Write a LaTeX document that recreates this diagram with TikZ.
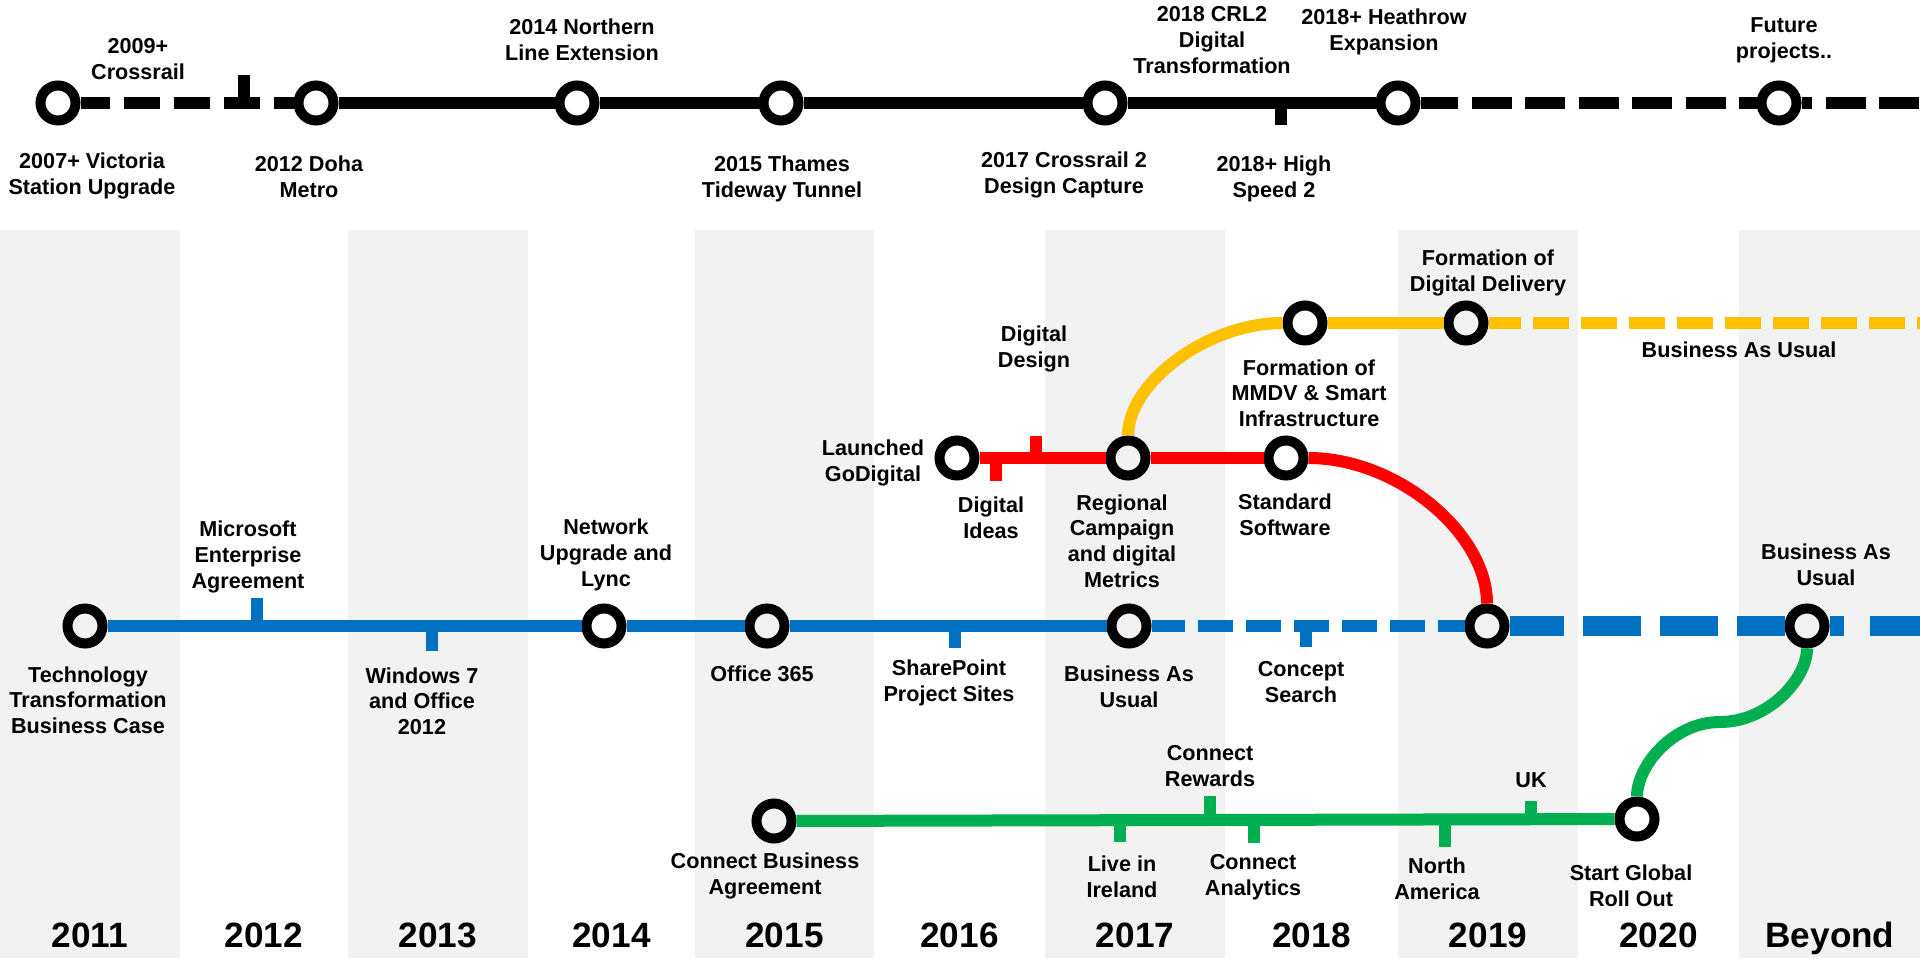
\documentclass[tikz,border=0pt]{standalone}
\usepackage{fontspec}
\setmainfont{Liberation Sans}
\usetikzlibrary{calc}
\definecolor{bggrey}{HTML}{F2F2F2}
\definecolor{lineblue}{HTML}{0070C0}
\definecolor{linered}{HTML}{FF0000}
\definecolor{lineorange}{HTML}{FFC000}
\definecolor{linegreen}{HTML}{00B050}
\def\tick[#1](#2)(#3){\draw[#1] (#2) -- ++(0,#3);}
\tikzset{
	station/.style={circle, draw=black, line width=1mm, minimum size=0.35cm, inner sep=0pt},
	track/.style={line width=1.2mm},
	lbl/.style={inner sep=0pt, align=center, font=\fontsize{6.15}{7.3}\selectfont\bfseries},
	yearlbl/.style={inner sep=0pt, anchor=base, font=\fontsize{10}{12}\selectfont\bfseries}
}

\begin{document}
\begin{tikzpicture}
	%%%%% START %%%%%
	\useasboundingbox (0, 0) rectangle (19.2, 9.58);
	\fill[white] (0, 0) rectangle (19.2, 9.58);
	\foreach \a/\b in {0/1.80, 3.48/5.28, 6.95/8.74, 10.45/12.25, 13.98/15.78, 17.39/19.2}
		\fill[bggrey] (\a, 0) rectangle (\b, 7.28);
	
	\foreach \x/\yr in {0.90/2011, 2.64/2012, 4.38/2013, 6.115/2014, 7.845/2015, 9.595/2016, 11.35/2017, 13.115/2018, 14.88/2019, 16.585/2020, 18.30/Beyond}
		\node[yearlbl] (y\yr) at (\x, 0.11) {\yr};
	
	%%%%% PROJECTS (black) %%%%%
	\node[station] (vic) at (0.58, 8.55) {};
	\node[station] (doha) at (3.16, 8.55) {};
	\node[station] (nle) at (5.77, 8.55) {};
	\node[station] (ttt) at (7.81, 8.55) {};
	\node[station] (crd) at (11.05, 8.55) {};
	\node[station] (lhr) at (13.98, 8.55) {};
	\node[station] (fut) at (17.79, 8.55) {};
	\coordinate (topend) at (19.2, 8.55);
	
	\draw[track, dash pattern=on 3.6mm off 1.4mm, dash phase=0.65mm] (vic) -- (doha);
	\draw[track] (doha) -- (nle) -- (ttt) -- (crd) -- (lhr);
	\draw[track, dash pattern=on 4mm off 1.35mm, dash phase=0.25mm] (lhr) -- (fut);
	\draw[track, dash pattern=on 4mm off 1.35mm, dash phase=2.95mm] (fut) -- (topend);
	\tick[track](2.44, 8.55)(0.28)
	\tick[track](12.81, 8.55)(-0.22)
	
	\node[lbl] (lvic) at (0.92, 7.82) {2007+ Victoria\\Station Upgrade};
	\node[lbl] (lcr) at (1.38, 8.99) {2009+\\Crossrail};
	\node[lbl] (ldoha) at (3.09, 7.81) {2012 Doha\\Metro};
	\node[lbl] (lnle) at (5.82, 9.18) {2014 Northern\\Line Extension};
	\node[lbl] (lttt) at (7.82, 7.79) {2015 Thames\\Tideway Tunnel};
	\node[lbl] (lcrd) at (10.64, 7.83) {2017 Crossrail 2\\Design Capture};
	\node[lbl] (lcrl) at (12.12, 9.18) {2018 CRL2\\Digital\\Transformation};
	\node[lbl] (lhs) at (12.74, 7.79) {2018+ High\\Speed 2};
	\node[lbl] (llhr) at (13.84, 9.26) {2018+ Heathrow\\Expansion};
	\node[lbl] (lfut) at (17.84, 9.18) {Future\\projects..};
	
	%%%%% TECHNOLOGY (blue) %%%%%
	\node[station] (ttb) at (0.85, 3.32) {};
	\node[station] (net) at (6.04, 3.32) {};
	\node[station] (off) at (7.67, 3.32) {};
	\node[station] (bau) at (11.29, 3.32) {};
	\node[station] (join) at (14.87, 3.32) {};
	\node[station] (baub) at (18.07, 3.32) {};
	\coordinate (blueend) at (19.2, 3.32);
	
	\draw[track, color=lineblue] (ttb) -- (net) -- (off) -- (bau);
	\draw[line width=1.2mm, color=lineblue, dash pattern=on 3.55mm off 1.25mm, dash phase=0.2mm] (bau) -- (join);
	\draw[line width=2mm, color=lineblue, dash pattern=on 5.8mm off 1.9mm, dash phase=0.35mm] (join) -- (baub);
	\draw[line width=2mm, color=lineblue, dash pattern=on 5.8mm off 2.6mm, dash phase=4.35mm] (baub) -- (blueend);
	\tick[track, color=lineblue](2.57, 3.32)(0.28)
	\tick[track, color=lineblue](4.32, 3.32)(-0.25)
	\tick[track, color=lineblue](9.55, 3.32)(-0.22)
	\tick[track, color=lineblue](13.06, 3.32)(-0.21)
	
	\node[lbl] (lttb) at (0.88, 2.58) {Technology\\Transformation\\Business Case};
	\node[lbl] (lms) at (2.48, 4.01) {Microsoft\\Enterprise\\Agreement};
	\node[lbl] (lwin) at (4.22, 2.57) {Windows 7\\and Office\\2012};
	\node[lbl] (lnet) at (6.06, 4.03) {Network\\Upgrade and\\Lync};
	\node[lbl] (loff) at (7.62, 2.84) {Office 365};
	\node[lbl] (lsp) at (9.49, 2.75) {SharePoint\\Project Sites};
	\node[lbl] (lbau) at (11.29, 2.71) {Business As\\Usual};
	\node[lbl] (lcs) at (13.01, 2.76) {Concept\\Search};
	\node[lbl] (lbaub) at (18.26, 3.93) {Business As\\Usual};
	
	%%%%% GODIGITAL (red) %%%%%
	\node[station] (god) at (9.57, 5.00) {};
	\node[station] (reg) at (11.28, 5.00) {};
	\node[station] (std) at (12.86, 5.00) {};
	
	\draw[track, color=linered] (god) -- (reg) -- (std);
	\draw[track, color=linered] (std) .. controls +(1.11, 0) and +(0, 0.93) .. (join);
	\tick[track, color=linered](9.96, 5.00)(-0.23)
	\tick[track, color=linered](10.36, 5.00)(0.22)
	
	\node[lbl] (lgod) at (8.73, 4.95) {Launched\\GoDigital};
	\node[lbl] (ldi) at (9.91, 4.40) {Digital\\Ideas};
	\node[lbl] (ldd) at (10.34, 6.09) {Digital\\Design};
	\node[lbl] (lreg) at (11.22, 4.17) {Regional\\Campaign\\and digital\\Metrics};
	\node[lbl] (lstd) at (12.85, 4.43) {Standard\\Software};
	
	%%%%% DIGITAL DELIVERY (orange) %%%%%
	\node[station] (mmdv) at (13.05, 6.35) {};
	\node[station] (ddel) at (14.66, 6.35) {};
	\coordinate (orangeend) at (19.2, 6.35);
	
	\draw[track, color=lineorange] (reg) .. controls +(0, 0.75) and +(-0.98, 0) .. (mmdv);
	\draw[track, color=lineorange] (mmdv) -- (ddel);
	\draw[track, color=lineorange, dash pattern=on 3.6mm off 1.2mm, dash phase=0.35mm] (ddel) -- (orangeend);
	
	\node[lbl] (lmmdv) at (13.09, 5.65) {Formation of\\MMDV \& Smart\\Infrastructure};
	\node[lbl] (lddel) at (14.88, 6.85) {Formation of\\Digital Delivery};
	\node[lbl] (lbauo) at (17.39, 6.08) {Business As Usual};
	
	%%%%% CONNECT (green) %%%%%
	\node[station] (cba) at (7.74, 1.37) {};
	\node[station] (glob) at (16.37, 1.39) {};
	\coordinate (gmid) at (17.20, 2.36);
	
	\draw[track, color=linegreen] (cba) -- (glob);
	\draw[track, color=linegreen] (glob) .. controls +(0, 0.54) and +(-0.46, 0) .. (gmid) .. controls +(0.48, 0) and +(0, -0.53) .. (baub);
	\tick[track, color=linegreen](11.20, 1.38)(-0.22)
	\tick[track, color=linegreen](12.10, 1.38)(0.24)
	\tick[track, color=linegreen](12.54, 1.38)(-0.23)
	\tick[track, color=linegreen](14.45, 1.38)(-0.27)
	\tick[track, color=linegreen](15.31, 1.38)(0.19)
	
	\node[lbl] (lcba) at (7.65, 0.82) {Connect Business\\Agreement};
	\node[lbl] (lirl) at (11.22, 0.81) {Live in\\Ireland};
	\node[lbl] (lrew) at (12.10, 1.92) {Connect\\Rewards};
	\node[lbl] (lana) at (12.53, 0.81) {Connect\\Analytics};
	\node[lbl] (lna) at (14.37, 0.79) {North\\America};
	\node[lbl] (luk) at (15.31, 1.78) {UK};
	\node[lbl] (lglob) at (16.31, 0.72) {Start Global\\Roll Out};
	
	%%%%% END %%%%%
\end{tikzpicture}
\end{document}
